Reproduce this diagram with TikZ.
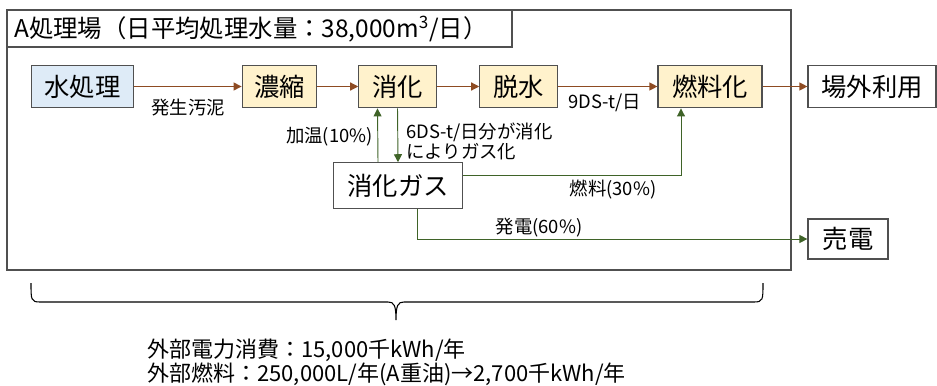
\documentclass[tikz,border=0pt]{standalone}
\usepackage{fontspec}
\setmainfont{Noto Sans CJK JP}
\usetikzlibrary{arrows.meta}
\definecolor{sludge}{HTML}{8E4B22}
\definecolor{gasgreen}{HTML}{3F6328}
\definecolor{boxblue}{HTML}{DEEBF7}
\definecolor{boxyellow}{HTML}{FFF2CC}
\definecolor{frame}{HTML}{505050}
\begin{document}
\begin{tikzpicture}[x=0.75pt,y=-0.75pt,
    proc/.style={draw=frame,line width=0.9pt,minimum height=32pt,inner sep=0pt,font=\fontsize{19}{22}\selectfont},
    flow/.style={draw=sludge,line width=0.9pt,-{Triangle[length=6pt,width=6pt]}},
    gasflow/.style={draw=gasgreen,line width=0.7pt,-{Triangle[length=6pt,width=6pt]}},
    note/.style={font=\fontsize{13.8}{15}\selectfont,inner sep=0pt}]
    \useasboundingbox (0,0) rectangle (937,385);
    % plant frame and title
    \draw[frame,line width=1.2pt] (7,10) rectangle (791,270);
    \draw[frame,line width=1pt] (7,10) rectangle (512,47);
    \node[anchor=west,inner sep=0pt,font=\fontsize{18.3}{20}\selectfont] (title) at (14,29)
      {A処理場（日平均処理水量：38,000m\textsuperscript{3}/日）};
    % process boxes
    \node[proc,fill=boxblue,minimum width=77pt] (water) at (82.5,86.5) {水処理};
    \node[proc,fill=boxyellow,minimum width=56pt] (thick) at (279.5,86.5) {濃縮};
    \node[proc,fill=boxyellow,minimum width=58pt] (digest) at (397.5,86.5) {消化};
    \node[proc,fill=boxyellow,minimum width=58pt] (dewater) at (518.5,86.5) {脱水};
    \node[proc,fill=boxyellow,minimum width=78pt] (fuel) at (710,86.5) {燃料化};
    \node[proc,fill=white,minimum width=96pt] (offsite) at (872,86.5) {場外利用};
    \node[proc,fill=white,minimum width=97pt,minimum height=34pt] (gas) at (398,185.5) {消化ガス};
    \node[proc,fill=white,minimum width=60pt,minimum height=30pt] (sell) at (848,239) {売電};
    % sludge line
    \draw[flow] (water) -- (thick);
    \draw[flow] (thick) -- (digest);
    \draw[flow] (digest) -- (dewater);
    \draw[flow] (dewater) -- (fuel);
    \draw[flow] (fuel) -- (offsite);
    % gas line
    \draw[gasflow] ([xshift=-15pt]gas.north) -- ([xshift=-15pt]digest.south);
    \draw[gasflow] (digest.south) -- (gas.north);
    \draw[gasflow] ([yshift=7.5pt]gas.east) -| ([xshift=-21.75pt]fuel.south);
    \draw[gasflow] ([xshift=14.25pt]gas.south) |- (sell.west);
    % labels
    \node[note] (sludgelbl) at (188,108) {発生汚泥};
    \node[note] (dslbl) at (605,103) {9DS-t/日};
    \node[note,anchor=east] (heatlbl) at (373,137) {加温(10\%)};
    \node[note,anchor=north west,align=left] (gaslbl) at (406,123) {6DS-t/日分が消化\\によりガス化};
    \node[note] (fuellbl) at (613,190) {燃料(30\%)};
    \node[note] (powerlbl) at (539,228) {発電(60\%)};
    % brace and totals
    \draw[black,line width=0.8pt] (31,283) .. controls (31,300) and (31,302) .. (40,302)
      -- (388,302) .. controls (394,302) and (396,305) .. (396,320)
      .. controls (396,305) and (398,302) .. (404,302)
      -- (754,302) .. controls (763,302) and (763,300) .. (763,283);
    \node[anchor=north west,align=left,inner sep=0pt,font=\fontsize{16.5}{16.5}\selectfont] (total) at (147,339)
      {外部電力消費：15,000千kWh/年\\外部燃料：250,000L/年(A重油)→2,700千kWh/年};
  \end{tikzpicture}
\end{document}
